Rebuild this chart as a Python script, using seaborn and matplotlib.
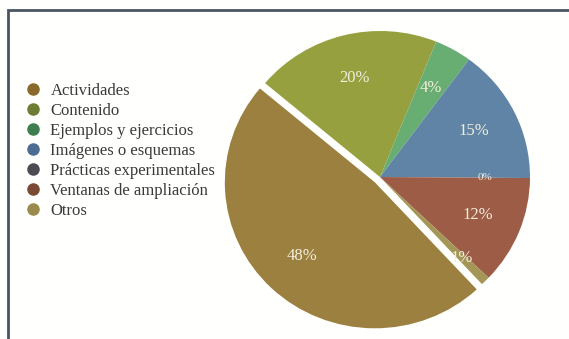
import matplotlib
matplotlib.use("Agg")
import matplotlib.pyplot as plt
import seaborn as sns
import numpy as np
from matplotlib.lines import Line2D
from matplotlib.patches import Rectangle

categories = ["Actividades", "Contenido", "Ejemplos y ejercicios",
              "Imágenes o esquemas", "Prácticas experimentales",
              "Ventanas de ampliación", "Otros"]
values = [48, 20, 4, 15, 0, 12, 1]
pct_labels = ["48%", "20%", "4%", "15%", "0%", "12%", "1%"]
slice_colors = ["#9c8040", "#97a03f", "#68ad72", "#5f84a6", "#5a5a60", "#9c5c46", "#a39657"]
legend_colors = ["#8a6a2c", "#6e7d33", "#3e7d4e", "#4d6c92", "#4b4b52", "#7a4a32", "#9a8a4c"]

sns.set_theme(style="white")
plt.rcParams["font.family"] = ["Liberation Serif", "DejaVu Serif"]

W, H = 569, 339
fig = plt.figure(figsize=(W / 100, H / 100), dpi=100)
fig.patch.set_facecolor("#fffffd")

# frame
fig.add_artist(Rectangle((8 / W, -0.05), 1.1, 1 - 10 / H + 0.05, transform=fig.transFigure,
                         fill=False, edgecolor="#4a5562", linewidth=2))

Rx, Ry = 150.0, 146.0
cx, cy = 380.0, H - 177.0
xl, yl_lo, yl_hi = 1.2, 1.1, 1.1
ax = fig.add_axes([(cx - xl * Rx) / W, (cy - yl_lo * Ry) / H,
                   2 * xl * Rx / W, (yl_lo + yl_hi) * Ry / H])

palette = sns.color_palette(slice_colors)
explode = [0.05, 0, 0, 0, 0, 0, 0]
start = 140 + 360 * values[0] / sum(values)
wedges, _ = ax.pie(values, colors=palette, startangle=start, counterclock=False,
                   explode=explode, radius=1.0, frame=True,
                   wedgeprops=dict(linewidth=0))
ax.set_xlim(-xl, xl)
ax.set_ylim(-yl_lo, yl_hi)
ax.set_aspect("auto")
ax.axis("off")

for w, lab in zip(wedges, pct_labels):
    ang = np.deg2rad((w.theta1 + w.theta2) / 2)
    d = 0.7
    ox, oy = w.center
    if lab == "1%":
        d = 0.78
    x = ox + d * np.cos(ang)
    y = oy + d * np.sin(ang)
    fs = 8 if lab == "0%" else 12
    ax.text(x, y, lab, ha="center", va="center", color="#f3eedc", fontsize=fs)

handles = [Line2D([], [], marker="o", linestyle="", markersize=8,
                  markerfacecolor=c, markeredgecolor=c) for c in legend_colors]
fig.legend(handles, categories, loc="upper left", bbox_to_anchor=(18 / W, 1 - 76 / H),
           frameon=False, fontsize=12, handletextpad=0.55, labelspacing=0.24,
           handlelength=1.0, borderaxespad=0, labelcolor="#3a3a3a")

fig.savefig("out.png", dpi=100, facecolor=fig.get_facecolor())
